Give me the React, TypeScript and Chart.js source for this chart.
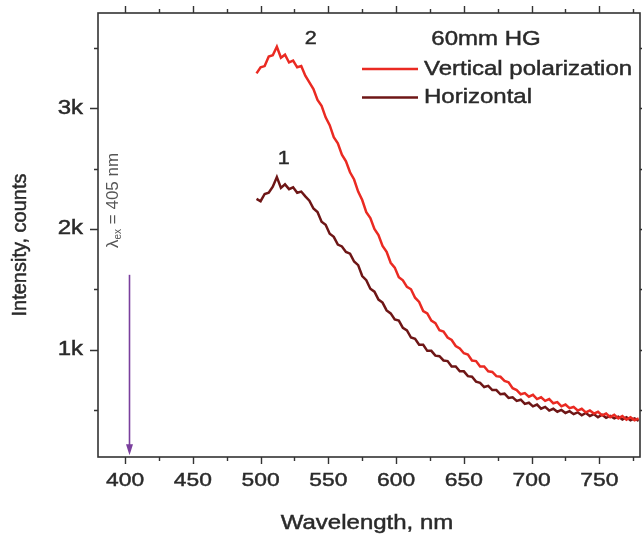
import { useEffect, useRef } from 'react';
import { Chart, registerables } from 'chart.js';

Chart.register(...registerables);

// ---- data ----
const wavelengths = [
  497, 500, 503, 506, 509, 512, 515, 518, 521, 524,
  527, 530, 533, 536, 539, 542, 545, 548, 551, 554,
  557, 560, 563, 566, 569, 572, 575, 578, 581, 584,
  587, 590, 593, 596, 599, 602, 605, 608, 611, 614,
  617, 620, 623, 626, 629, 632, 635, 638, 641, 644,
  647, 650, 653, 656, 659, 662, 665, 668, 671, 674,
  677, 680, 683, 686, 689, 692, 695, 698, 701, 704,
  707, 710, 713, 716, 719, 722, 725, 728, 731, 734,
  737, 740, 743, 746, 749, 752, 755, 758, 761, 764,
  767, 770, 773, 776, 779,
];

const verticalPolarization = [
  3290, 3340, 3350, 3430, 3440, 3510, 3420, 3445, 3380, 3395,
  3340, 3350, 3270, 3215, 3160, 3070, 3020, 2925, 2860, 2760,
  2710, 2615, 2560, 2470, 2410, 2310, 2240, 2140, 2090, 2000,
  1950, 1860, 1810, 1720, 1680, 1600, 1575, 1520, 1500, 1430,
  1395, 1320, 1300, 1240, 1220, 1160, 1150, 1100, 1080, 1030,
  1010, 970, 960, 910, 905, 860, 860, 820, 815, 780,
  775, 740, 730, 680, 665, 630, 640, 610, 625, 590,
  605, 575, 590, 555, 565, 530, 545, 515, 525, 495,
  510, 480, 495, 470, 485, 455, 470, 440, 460, 430,
  450, 420, 440, 415, 430,
];

const horizontalPolarization = [
  2250, 2230, 2290, 2300, 2350, 2430, 2340, 2370, 2330, 2345,
  2300, 2310, 2270, 2235, 2170, 2140, 2060, 2035, 1960, 1935,
  1870, 1855, 1810, 1795, 1730, 1700, 1610, 1575, 1505, 1480,
  1415, 1390, 1325, 1300, 1250, 1240, 1180, 1160, 1100, 1090,
  1040, 1040, 990, 990, 950, 945, 910, 905, 860, 860,
  820, 820, 780, 775, 735, 725, 690, 700, 665, 665,
  630, 635, 600, 605, 575, 585, 550, 560, 530, 545,
  510, 525, 495, 510, 485, 500, 475, 490, 465, 480,
  455, 475, 450, 465, 440, 460, 435, 450, 430, 445,
  420, 440, 415, 430, 410,
];

const seriesLabels = ['Vertical polarization', 'Horizontal'];
const legendTitle = '60mm HG';

const xMajorTicks = [400, 450, 500, 550, 600, 650, 700, 750];
const xMinorTicks = [425, 475, 525, 575, 625, 675, 725, 775];
const yMajorTicks = [1000, 2000, 3000];
const yMajorLabels = ['1k', '2k', '3k'];
const yMinorTicks = [500, 1500, 2500, 3500];

const curveNames = ['2', '1'];
const curveNameX = [537, 517];
const curveNameY = [3576, 2581];

const excitationNm = 403;
const excitationText = ' = 405 nm';

const FONT = '"Liberation Sans", Arial, sans-serif';
const TEXT = '#2a2a2a';

function sText(
  ctx: CanvasRenderingContext2D,
  text: string,
  x: number,
  y: number,
  size: number,
  align: CanvasTextAlign,
  color = TEXT,
  sx = 1.2
) {
  ctx.save();
  ctx.font = `${size}px ${FONT}`;
  ctx.fillStyle = color;
  ctx.strokeStyle = color;
  ctx.lineWidth = 0.45;
  ctx.textAlign = align;
  ctx.textBaseline = 'middle';
  ctx.translate(x, y);
  ctx.scale(sx, 1);
  ctx.fillText(text, 0, 0);
  ctx.strokeText(text, 0, 0);
  ctx.restore();
}

const overlayPlugin = {
  id: 'overlay',
  afterDatasetsDraw(chart: any) {
    const ctx: CanvasRenderingContext2D = chart.ctx;
    const { left, right, top, bottom } = chart.chartArea;
    const xs = chart.scales.x;
    const ys = chart.scales.y;

    ctx.save();
    // frame
    ctx.strokeStyle = '#333';
    ctx.lineWidth = 1.6;
    ctx.strokeRect(left, top, right - left, bottom - top);

    // ticks
    ctx.beginPath();
    ctx.lineWidth = 1.4;
    const xt = (vals: number[], len: number) => {
      vals.forEach((v) => {
        const px = Math.round(xs.getPixelForValue(v)) + 0.5;
        ctx.moveTo(px, bottom);
        ctx.lineTo(px, bottom + len);
        ctx.moveTo(px, top);
        ctx.lineTo(px, top - len);
      });
    };
    const yt = (vals: number[], len: number) => {
      vals.forEach((v) => {
        const py = Math.round(ys.getPixelForValue(v)) + 0.5;
        ctx.moveTo(left, py);
        ctx.lineTo(left - len, py);
        ctx.moveTo(right, py);
        ctx.lineTo(right + len, py);
      });
    };
    xt(xMajorTicks, 7);
    xt(xMinorTicks, 4);
    yt(yMajorTicks, 8);
    yt(yMinorTicks, 4);
    ctx.stroke();

    // tick labels
    xMajorTicks.forEach((v) => {
      sText(ctx, String(v), xs.getPixelForValue(v), 481, 19, 'center');
    });
    yMajorTicks.forEach((v, i) => {
      sText(ctx, yMajorLabels[i], 83, ys.getPixelForValue(v), 20, 'right');
    });

    // axis titles
    sText(ctx, 'Wavelength, nm', 367, 523, 20, 'center');
    ctx.save();
    ctx.translate(20, 245);
    ctx.rotate(-Math.PI / 2);
    ctx.font = `20px ${FONT}`;
    ctx.fillStyle = TEXT;
    ctx.strokeStyle = TEXT;
    ctx.lineWidth = 0.45;
    ctx.textAlign = 'center';
    ctx.textBaseline = 'middle';
    ctx.fillText('Intensity, counts', 0, 0);
    ctx.strokeText('Intensity, counts', 0, 0);
    ctx.restore();

    // legend
    sText(ctx, legendTitle, 486, 39, 20, 'center');
    const ly = [69, 97.5];
    chart.data.datasets.forEach((ds: any, i: number) => {
      ctx.beginPath();
      ctx.strokeStyle = ds.borderColor;
      ctx.lineWidth = 2.5;
      ctx.moveTo(362, ly[i]);
      ctx.lineTo(418, ly[i]);
      ctx.stroke();
      sText(ctx, ds.label, 424, ly[i], 20, 'left');
    });

    // curve numbers
    curveNames.forEach((t, i) => {
      sText(ctx, t, xs.getPixelForValue(curveNameX[i]), ys.getPixelForValue(curveNameY[i]), 18, 'center');
    });

    // excitation arrow
    const ax = Math.round(xs.getPixelForValue(excitationNm)) + 0.5;
    const y1 = ys.getPixelForValue(1620);
    const y2 = ys.getPixelForValue(125);
    ctx.strokeStyle = '#7a3f9d';
    ctx.fillStyle = '#7a3f9d';
    ctx.lineWidth = 1.6;
    ctx.beginPath();
    ctx.moveTo(ax, y1);
    ctx.lineTo(ax, y2 - 8);
    ctx.stroke();
    ctx.beginPath();
    ctx.moveTo(ax - 3.5, y2 - 11);
    ctx.lineTo(ax + 3.5, y2 - 11);
    ctx.lineTo(ax, y2);
    ctx.closePath();
    ctx.fill();

    // rotated lambda label
    ctx.save();
    ctx.translate(ax - 12, 248);
    ctx.rotate(-Math.PI / 2);
    ctx.fillStyle = '#555';
    ctx.textAlign = 'left';
    ctx.textBaseline = 'alphabetic';
    ctx.font = `17px ${FONT}`;
    ctx.fillText('λ', 0, 0);
    const w1 = ctx.measureText('λ').width;
    ctx.font = `10px ${FONT}`;
    ctx.fillText('ex', w1, 3);
    const w2 = ctx.measureText('ex').width;
    ctx.font = `17px ${FONT}`;
    ctx.fillText(excitationText, w1 + w2, 0);
    ctx.restore();

    ctx.restore();
  },
};

export default function App() {
  const ref = useRef<HTMLCanvasElement | null>(null);

  useEffect(() => {
    document.body.style.margin = '0';
    const canvas = ref.current;
    if (!canvas) return;
    const chart = new Chart(canvas, {
      type: 'line',
      data: {
        datasets: [
          {
            label: seriesLabels[0],
            data: wavelengths.map((w, i) => ({ x: w, y: verticalPolarization[i] })),
            borderColor: '#ea2a22',
            borderWidth: 2.5,
            pointRadius: 0,
            tension: 0,
            fill: false,
          },
          {
            label: seriesLabels[1],
            data: wavelengths.map((w, i) => ({ x: w, y: horizontalPolarization[i] })),
            borderColor: '#6e1616',
            borderWidth: 2.5,
            pointRadius: 0,
            tension: 0,
            fill: false,
          },
        ],
      },
      options: {
        responsive: false,
        animation: false,
        events: [],
        layout: { padding: { left: 0, right: 2, top: 13, bottom: 0 } },
        plugins: { legend: { display: false }, tooltip: { enabled: false } },
        scales: {
          x: {
            type: 'linear',
            min: 380,
            max: 780,
            grid: { display: false },
            border: { display: false },
            ticks: { display: false },
            afterFit: (s: any) => {
              s.height = 78;
            },
          },
          y: {
            type: 'linear',
            min: 110,
            max: 3790,
            grid: { display: false },
            border: { display: false },
            ticks: { display: false },
            afterFit: (s: any) => {
              s.width = 98;
            },
          },
        },
      },
      plugins: [overlayPlugin],
    });
    return () => chart.destroy();
  }, []);

  return (
    <div>
      <canvas ref={ref} width={642} height={535} style={{ display: 'block' }} />
    </div>
  );
}
